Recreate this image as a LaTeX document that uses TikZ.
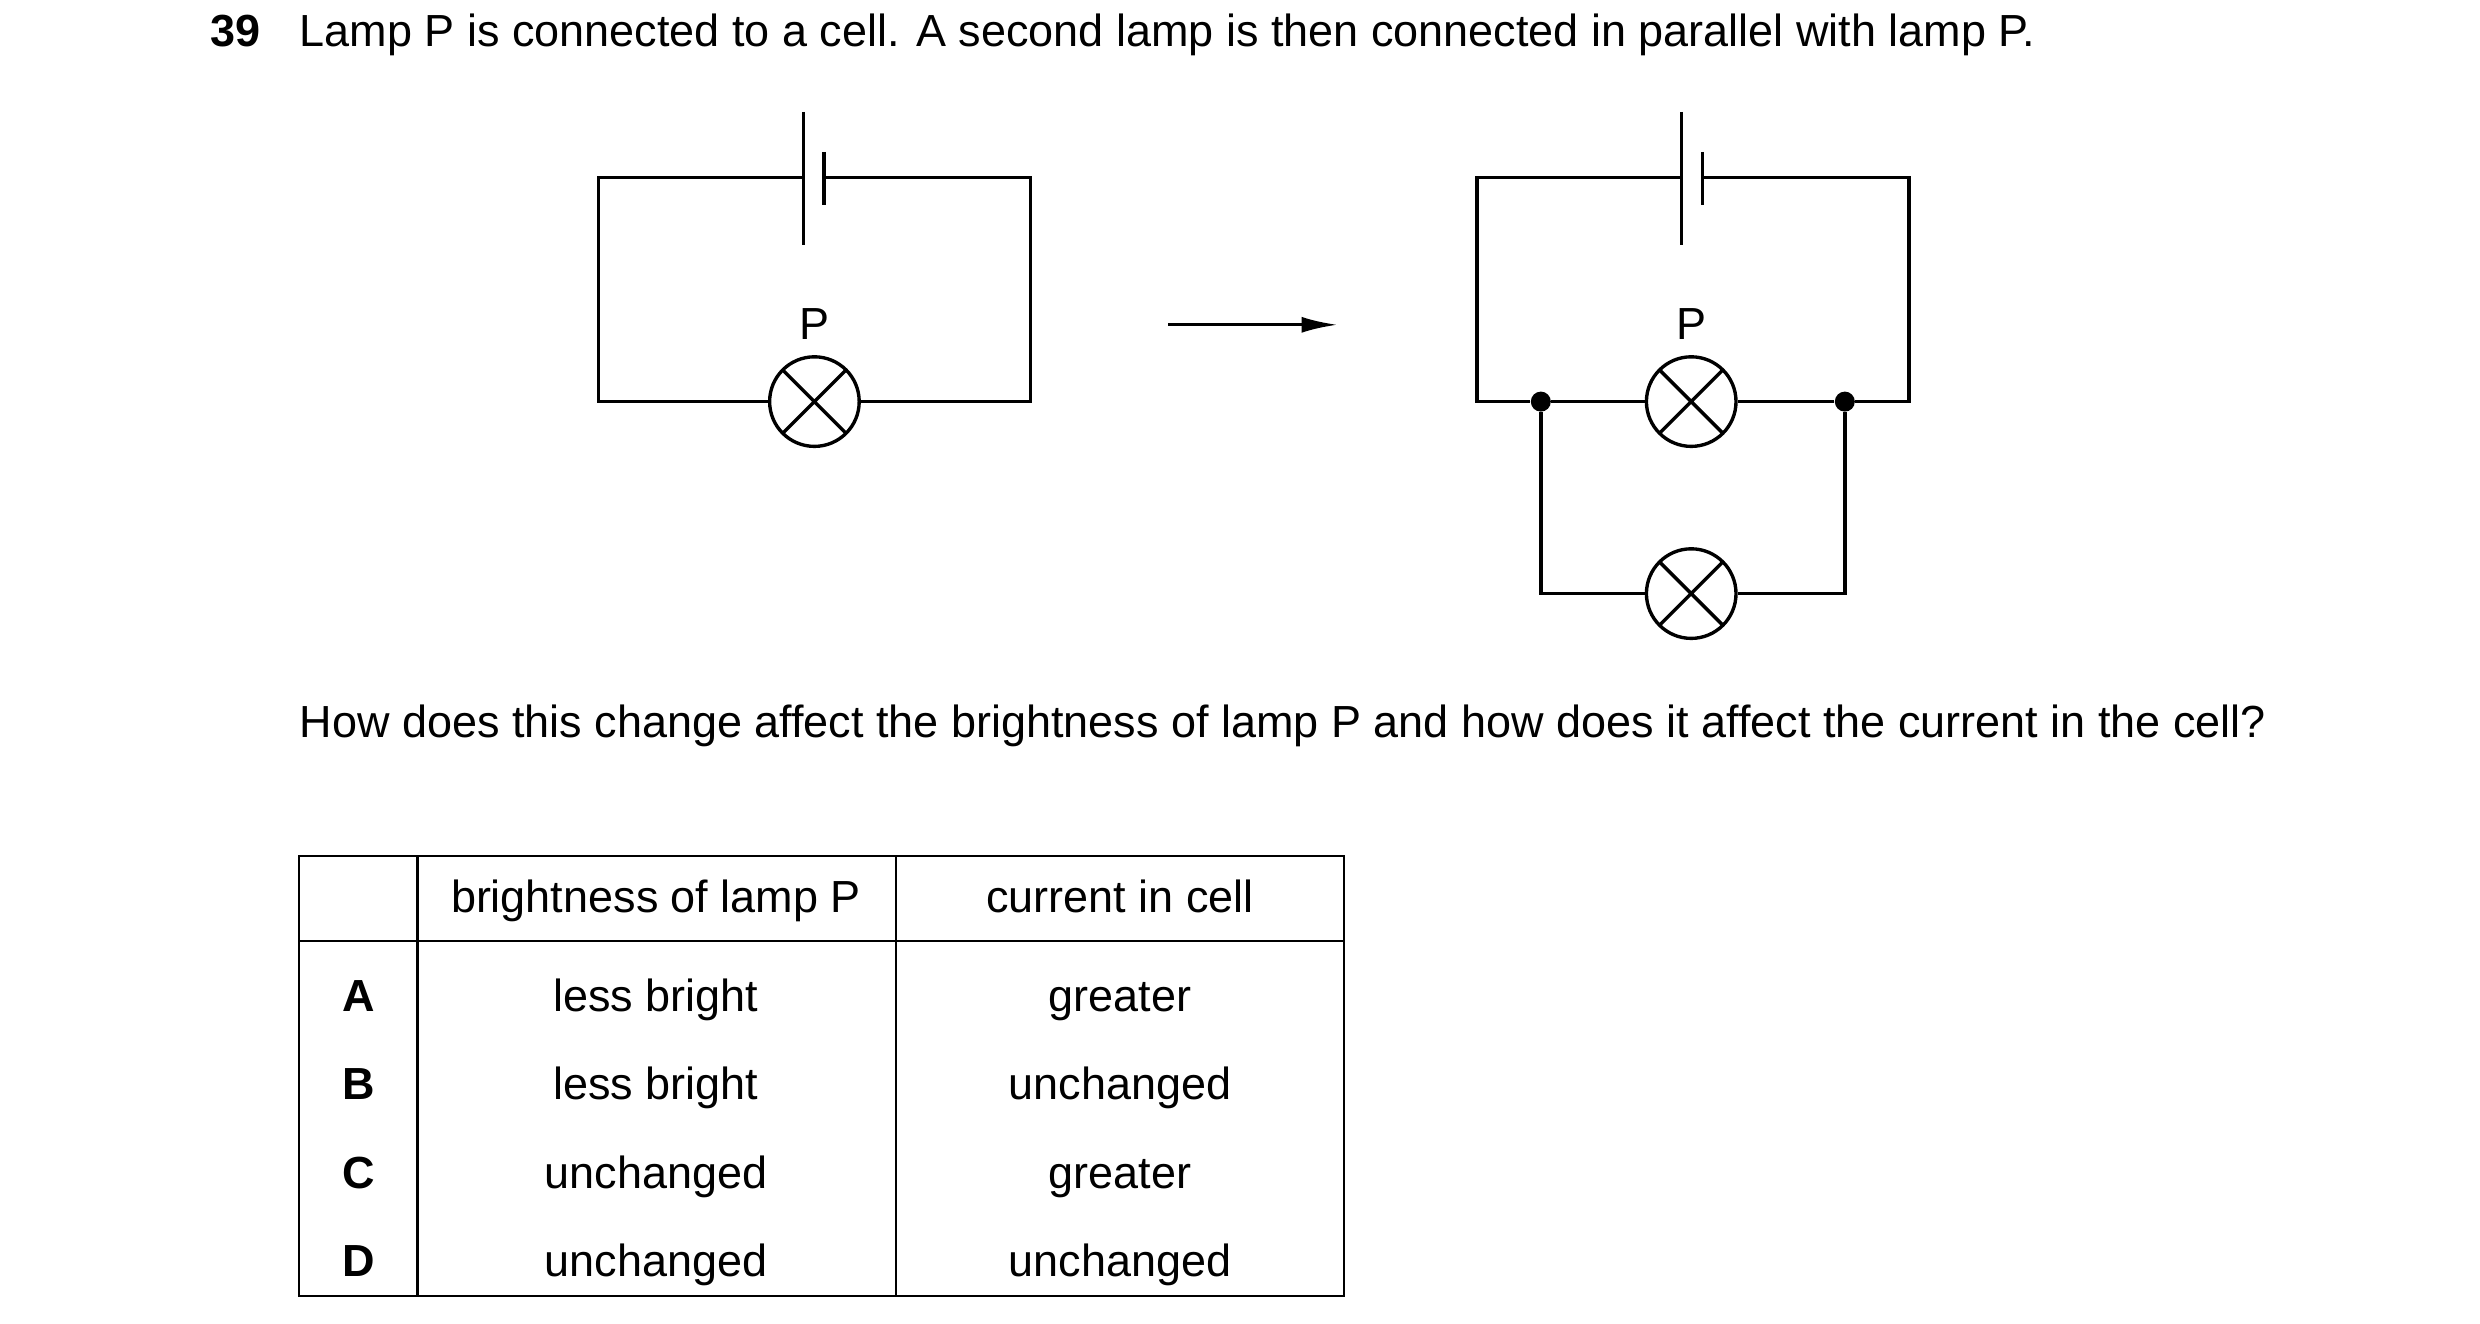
\documentclass[tikz,border=0pt]{standalone}
\usepackage{fontspec}
\setmainfont{Liberation Sans}
\usetikzlibrary{positioning,arrows.meta}
\begin{document}
\begin{tikzpicture}[x=0.02cm,y=-0.02cm,
  every node/.style={font=\fontsize{16}{19}\selectfont},
  txt/.style={anchor=base,inner sep=0pt},
  wire/.style={line width=1.2pt},
  lamp/.style={circle,draw,line width=1.2pt,minimum size=1.12cm,inner sep=0pt,
    path picture={\draw[line width=1.2pt]
      (path picture bounding box.south west)--(path picture bounding box.north east)
      (path picture bounding box.north west)--(path picture bounding box.south east);}},
  dot/.style={circle,fill,inner sep=0pt,minimum size=0.25cm}]
\useasboundingbox (0,0) rectangle (1550,827);
% question
\node[anchor=base west,inner sep=0pt,font=\fontsize{16}{19}\selectfont\bfseries] (num) at (131,29) {39};
\node[anchor=base west,inner sep=0pt] (q1) at (187,29) {Lamp P is connected to a cell. A second lamp is then connected in parallel with lamp P.};
% first circuit
\node[lamp] (lp1) at (509,251) {};
\node[txt] (p1) at (509,212) {P};
\coordinate (c1a) at (502,111);
\coordinate (c1b) at (515,111);
\draw[wire] (c1a) -| (374,251) -- (lp1.west);
\draw[wire] (c1b) -| (644,251) -- (lp1.east);
\draw[wire] (502,70) -- (502,153);
\draw[wire] (515,95) -- (515,128);
% arrow
\coordinate (ar1) at (730,203);
\coordinate (ar2) at (836,203);
\draw[wire,-{Latex[length=0.45cm,width=0.2cm]}] (ar1) -- (ar2);
% second circuit
\node[lamp] (lp2) at (1057,251) {};
\node[lamp] (lq2) at (1057,371) {};
\node[txt] (p2) at (1057,212) {P};
\node[dot] (jl) at (963,251) {};
\node[dot] (jr) at (1153,251) {};
\coordinate (c2a) at (1051,111);
\coordinate (c2b) at (1064,111);
\draw[wire] (c2a) -| (923,251) -- (jl) -- (lp2.west);
\draw[wire] (c2b) -| (1193,251) -- (jr) -- (lp2.east);
\draw[wire] (jl) |- (lq2.west);
\draw[wire] (jr) |- (lq2.east);
\draw[wire] (1051,70) -- (1051,153);
\draw[wire] (1064,95) -- (1064,128);
% second question
\node[anchor=base west,text width=25cm,align=justify,inner sep=0pt] (q2) at (187,461)
  {How does this change affect the brightness of lamp P and how does it affect the current in the cell?};
% table
\draw[line width=0.9pt] (187,535) rectangle (840,810);
\draw[line width=0.9pt] (187,588) -- (840,588);
\draw[line width=0.9pt] (261,535) -- (261,810);
\draw[line width=0.9pt] (560,535) -- (560,810);
\node[txt] (h1) at (410,570) {brightness of lamp P};
\node[txt] (h2) at (700,570) {current in cell};
\foreach \k/\a/\b/\y in {A/less bright/greater/632,B/less bright/unchanged/687,C/unchanged/greater/743,D/unchanged/unchanged/798}{
  \node[txt,font=\fontsize{16}{19}\selectfont\bfseries] (k\k) at (224,\y) {\k};
  \node[txt] (a\k) at (410,\y) {\a};
  \node[txt] (b\k) at (700,\y) {\b};
}
\end{tikzpicture}
\end{document}
